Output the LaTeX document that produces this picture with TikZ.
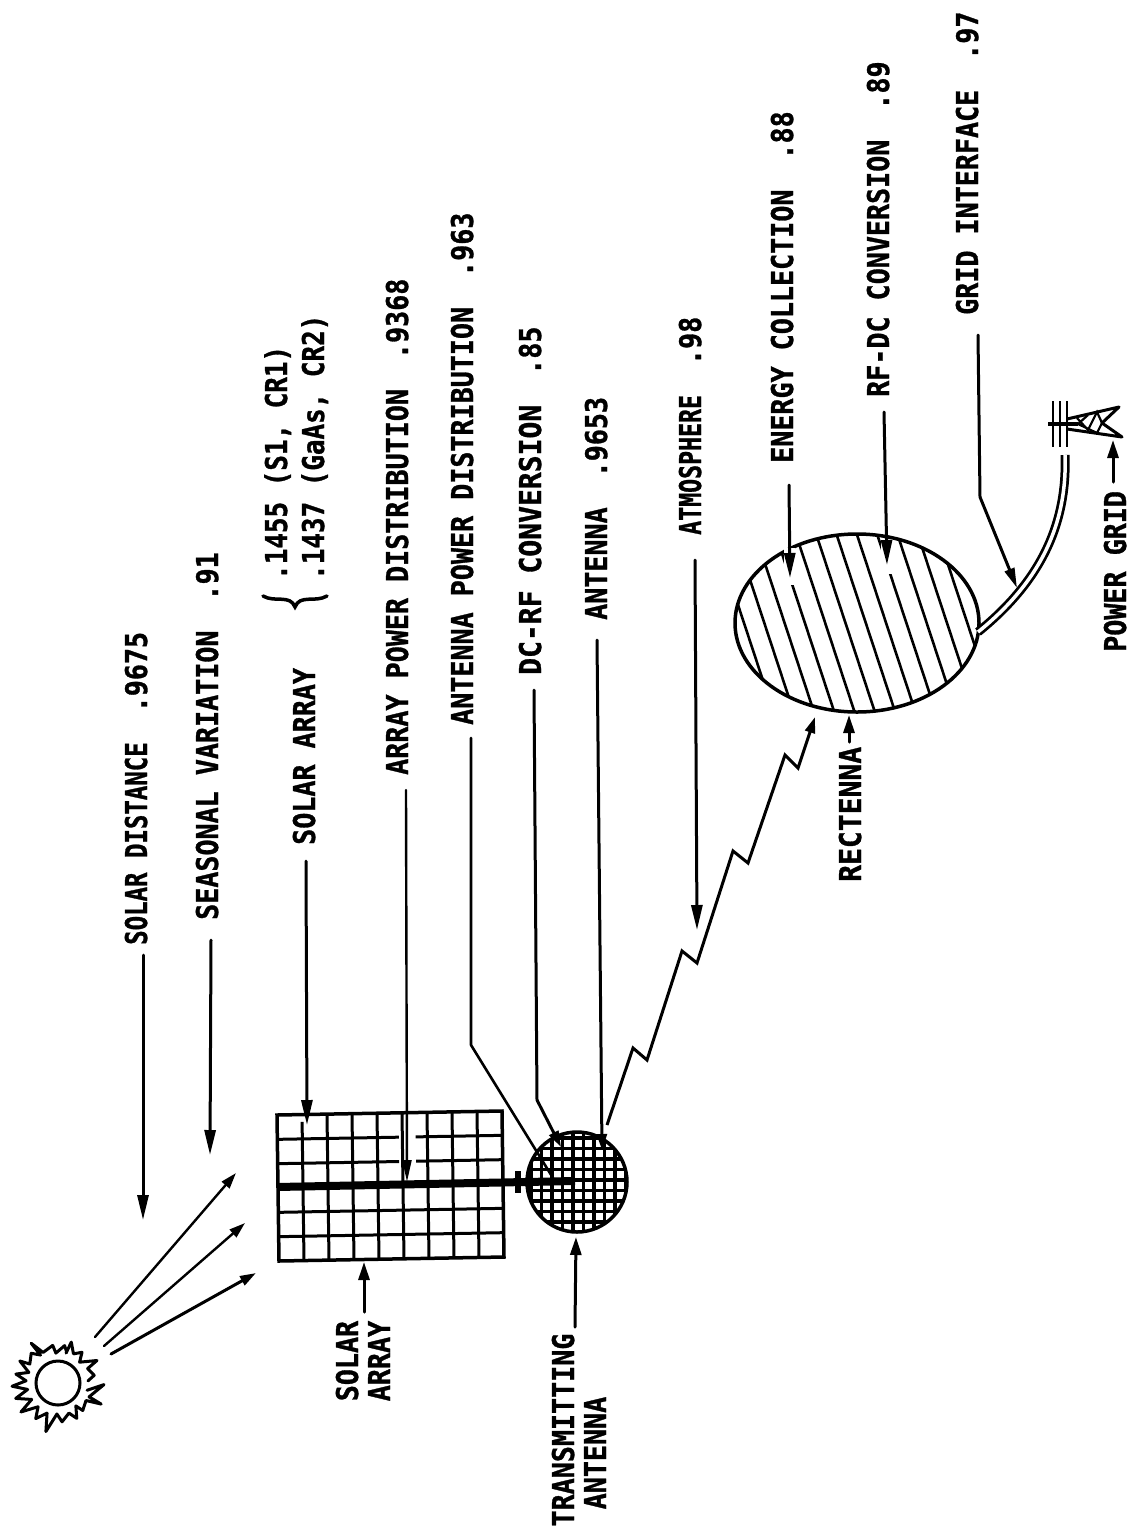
\documentclass[tikz,border=0pt]{standalone}
\usepackage{fontspec}
\usepackage{graphicx}
\usetikzlibrary{arrows.meta,calc,shapes.geometric}
\newfontfamily\labfont[FakeStretch=0.89,FakeBold=1]{DejaVu Sans Mono Bold}
\newcommand{\lbv}[3][1]{\scalebox{#1}[1]{#2}\hspace{30pt}#3}
\tikzset{
  lab/.style={rotate=90,anchor=west,inner sep=0pt,font=\labfont\fontsize{30}{30}\selectfont,text height=22pt,text depth=0pt,align=center},
  lead/.style={line width=3pt,black,line cap=round,line join=round},
  arr/.style={lead,-{Triangle[length=25pt,width=11pt]}},
  arrs/.style={lead,-{Triangle[length=18pt,width=11pt]}},
  gridl/.style={line width=3pt,black},
  sunray/.style={line width=3pt,black,line join=round,line cap=round},
  beam/.style={line width=3pt,black,line join=miter}
}
\begin{document}
\begin{tikzpicture}[x=1pt,y=-1pt]
\useasboundingbox[fill=white] (0,0) rectangle (1131,1537);

% ---- labels
\node[lab] (lsd)  at (136,945) {\lbv[0.9]{SOLAR DISTANCE}{.9675}};
\node[lab] (lsv)  at (207,920) {\lbv{SEASONAL VARIATION}{.91}};
\node[lab] (lsa)  at (304,845) {SOLAR ARRAY};
\node[lab] (lf1)  at (276,580) {\scalebox{0.97}[1]{.1455 (S1, CR1)}};
\node[lab] (lf2)  at (313,580) {\scalebox{0.97}[1]{.1437 (GaAs, CR2)}};
\node[lab] (lapd) at (397,775) {\lbv{ARRAY POWER DISTRIBUTION}{.9368}};
\node[lab] (lanp) at (462,725) {\lbv{ANTENNA POWER DISTRIBUTION}{.963}};
\node[lab] (ldc)  at (530,675) {\lbv[1.05]{DC-RF CONVERSION}{.85}};
\node[lab] (lant) at (596,620) {\lbv{ANTENNA}{.9653}};
\node[lab] (latm) at (690,535) {\lbv[0.87]{ATMOSPHERE}{.98}};
\node[lab] (lec)  at (782,463) {\lbv{ENERGY COLLECTION}{.88}};
\node[lab] (lrf)  at (878,397) {\lbv{RF-DC CONVERSION}{.89}};
\node[lab] (lgi)  at (967,315) {\lbv{GRID INTERFACE}{.97}};
\node[lab] (lpg)  at (1115,652) {POWER GRID};
\node[lab] (lrec) at (850,882) {\scalebox{1.05}[1]{RECTENNA}};
\node[lab,anchor=center] (lsarr) at (379,1361) {SOLAR\\[2pt]ARRAY};
\node[lab,anchor=center] (ltx)   at (595,1430) {TRANSMITTING\\[2pt]ANTENNA\hspace*{46pt}};

% brace
\draw[line width=3.5pt,line cap=round] (263,596) .. controls (275,603) and (290,594) .. (295,607) .. controls (300,594) and (315,603) .. (327,596);

% ---- solar array panel
\coordinate (TL) at (277,1115); \coordinate (TR) at (502,1111);
\coordinate (BR) at (504,1257); \coordinate (BL) at (279,1261);
\draw[gridl,line width=3.5pt] (TL)--(TR)--(BR)--(BL)--cycle;
\foreach \k in {2,3,4,5,6,7,8} \draw[gridl] ($(TL)!\k/9!(TR)$)--($(BL)!\k/9!(BR)$);
\draw[gridl] ($($(TL)!1/9!(TR)$)!0.05!($(BL)!1/9!(BR)$)$)--($(BL)!1/9!(BR)$);
\foreach \k in {4,5} \draw[gridl] ($(TL)!\k/6!(BL)$)--($(TR)!\k/6!(BR)$);
\foreach \k in {1,2} {
  \draw[gridl] ($(TL)!\k/6!(BL)$)--($($(TL)!\k/6!(BL)$)!0.54!($(TR)!\k/6!(BR)$)$);
  \draw[gridl] ($($(TL)!\k/6!(BL)$)!0.615!($(TR)!\k/6!(BR)$)$)--($(TR)!\k/6!(BR)$);
}

% ---- transmitting antenna
\node[circle,draw,line width=3.5pt,minimum size=100pt,inner sep=0pt] (txa) at (577,1182) {};
\begin{scope}
  \clip (577,1182) circle (50pt);
  \foreach \k in {0,...,9} \draw[line width=3.5pt] (531+\k*10.5,1125)--(531+\k*10.5,1240);
  \foreach \k in {0,...,9} \draw[line width=3.5pt] (520,1138+\k*10.5)--(635,1138+\k*10.5);
\end{scope}
% feed bar
\coordinate (barA) at (277,1187); \coordinate (barB) at (575,1181);
\draw[line width=8pt] (barA)--(barB);
\coordinate (tickA) at (518,1171); \coordinate (tickB) at (518,1193);
\draw[line width=5.5pt] (tickA)--(tickB);

% ---- sun
\begin{scope}[shift={(58,1383)}]
  \node[circle,draw,line width=3pt,minimum size=44pt,inner sep=0pt] (sun) at (0,0) {};
  \draw[sunray] (-75:31)--(-72:43)--(-62:33)--(-52:39)--(-44:30)--(-30:45)--(-26:33)--(-12:37)--(-4:30);
  \draw[sunray] (14:30)--(2:46)--(24:34)--(26:48)--(32:33)--(48:37)--(52:29)--(62:40)--(70:32)--(84:39)--(92:31)--(104:50)--(110:32)--(122:42)--(130:31)--(142:47)--(148:31)--(160:45)--(168:31)--(176:46)--(184:32)--(192:43)--(200:31)--(210:44)--(214:34)--(228:40)--(238:33)--(236:48)--(244:34)--(262:38)--(266:30)--(280:38)--(286:32);
\end{scope}
\coordinate (s1a) at (95,1337);  \coordinate (s1b) at (236,1173);
\coordinate (s2a) at (104,1346); \coordinate (s2b) at (245,1223);
\coordinate (s3a) at (111,1354); \coordinate (s3b) at (256,1273);
\draw[lead,line width=2.4pt,-{Triangle[length=16pt,width=10pt]}] (s1a)--(s1b);
\draw[lead,line width=2.4pt,-{Triangle[length=16pt,width=10pt]}] (s2a)--(s2b);
\draw[lead,line width=3pt,-{Triangle[length=16pt,width=10pt]}] (s3a)--(s3b);

% ---- rectenna
\node[ellipse,draw,line width=3.5pt,minimum width=244pt,minimum height=178pt,inner sep=0pt] (rect) at (857,623) {};
\begin{scope}
  \clip (857,623) ellipse [x radius=122pt,y radius=89pt];
  \foreach \k in {0,...,11}
    \draw[line width=2.6pt] ({744+\k*20.3-0.33*120},503)--({744+\k*20.3+0.33*120},743);
\end{scope}
\draw[white,line width=11pt] (789,548)--(789,585);
\draw[white,line width=11pt] (886,540)--(886,574);

% ---- cable
\coordinate (cab0) at (978,632); \coordinate (cab1) at (1065,455);
\draw[line width=9pt] (cab0) .. controls (1030,590) and (1068,535) .. (cab1);
\draw[white,line width=3.5pt] (cab0) .. controls (1030,590) and (1068,535) .. (cab1);

% ---- tower
\coordinate (tw1) at (1053,401); \coordinate (tw2) at (1053,447);
\coordinate (tw3) at (1060,401); \coordinate (tw4) at (1060,447);
\coordinate (tw5) at (1067,401); \coordinate (tw6) at (1067,447);
\draw[line width=2.8pt] (tw1)--(tw2) (tw3)--(tw4) (tw5)--(tw6);
\draw[line width=4pt] (1048,424)--(1078,424);
\draw[line width=3pt,line join=round] (1067,419)--(1119,407)--(1102,423)--(1122,437)--(1067,429);
\draw[line width=2.2pt] (1077,418)--(1088,430)--(1097,412)--(1102,423)--(1097,433)--(1078,424)--(1088,415);

% ---- leaders
\coordinate (tipsd) at (143,1220);
\draw[arr] ([shift={(7,10)}]lsd.west)--(tipsd);
\coordinate (tipsv) at (210,1155);
\draw[arr] ([shift={(4,20)}]lsv.west)--(tipsv);
\coordinate (tipsa) at (307,1125);
\draw[arr] ([shift={(2,16)}]lsa.west)--(tipsa);
\coordinate (tipapd) at (407,1182);
\draw[lead,line width=2.4pt,-{Triangle[length=22pt,width=9pt]}] ([shift={(9,15)}]lapd.west)--(tipapd);
\coordinate (bendanp) at (471,1045); \coordinate (tipanp) at (553,1178);
\draw[lead,line width=2.6pt] ([shift={(9,13)}]lanp.west)--(bendanp)--(tipanp);
\coordinate (benddc) at (537,1100); \coordinate (tipdc) at (561,1147);
\draw[lead,-{Triangle[length=16pt,width=10pt]}] ([shift={(4,15)}]ldc.west)--(benddc)--(tipdc);
\coordinate (tipant) at (602,1150);
\draw[lead,-{Triangle[length=16pt,width=10pt]}] ([shift={(1,20)}]lant.west)--(tipant);
\coordinate (tipatm) at (697,930);
\draw[arr] ([shift={(5,25)}]latm.west)--(tipatm);
\coordinate (tipec) at (790,578);
\draw[arr] ([shift={(7,22)}]lec.west)--(tipec);
\coordinate (tiprf) at (887,565);
\draw[arr] ([shift={(6,15)}]lrf.west)--(tiprf);
\coordinate (bendgi) at (980,497); \coordinate (tipgi) at (1017,588);
\draw[lead,-{Triangle[length=20pt,width=10pt]}] ([shift={(11,20)}]lgi.west)--(bendgi)--(tipgi);
\coordinate (tippg) at (1113,440);
\draw[arrs] ([shift={(-2,-170)}]lpg.west)--(tippg);
\coordinate (tiprec) at (849,715);
\draw[arrs] ([shift={(-1,-140)}]lrec.west)--(tiprec);
\coordinate (tipsaa) at (364,1262); \coordinate (tailsaa) at (364,1312);
\draw[arrs] (tailsaa)--(tipsaa);
\coordinate (tiptx) at (576,1237); \coordinate (tailtx) at (575,1327);
\draw[arrs] (tailtx)--(tiptx);

% ---- microwave beam
\coordinate (b0) at (607,1125); \coordinate (b9) at (815,717);
\draw[beam,-{Triangle[length=16pt,width=10pt]}] (b0)--(633,1048)--(647,1060)--(682,951)--(697,963)--(733,851)--(748,863)--(785,755)--(798,768)--(b9);
\end{tikzpicture}
\end{document}
